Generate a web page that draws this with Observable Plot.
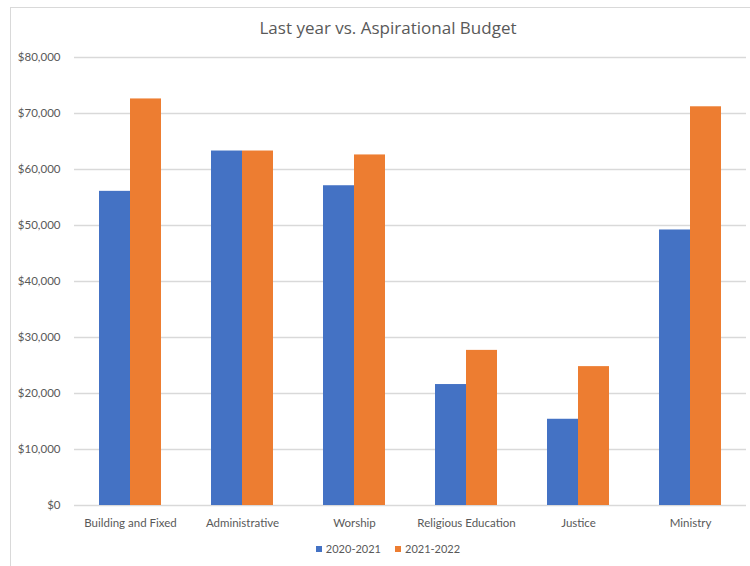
<!DOCTYPE html>
<html>
<head>
<meta charset="utf-8">
<script src="https://cdn.jsdelivr.net/npm/d3@7"></script>
<script src="https://cdn.jsdelivr.net/npm/@observablehq/plot@0.6"></script>
<style>
  html, body { margin: 0; padding: 0; background: #fff; width: 750px; height: 566px; overflow: hidden; }
  body { position: relative; font-family: Lato, "Open Sans", sans-serif; }
  #frame { position: absolute; left: 10px; top: 7px; width: 800px; height: 600px;
           border-left: 1px solid #d9d9d9; border-top: 1px solid #d9d9d9; }
  #wrap { position: absolute; left: 0; top: 0; width: 750px; }
  #title { height: 46px; box-sizing: border-box; padding-top: 17px; padding-left: 26px; text-align: center;
           font-family: "Open Sans", sans-serif; font-size: 17px; color: #595959; line-height: 22px; }
  #legend { display: flex; justify-content: center; gap: 14px; padding-left: 26px; margin-top: 7px;
            font-size: 11px; color: #595959; line-height: 14px; }
  #legend span.sw { display: inline-block; width: 6px; height: 6px; margin-right: 4px; vertical-align: 1px; }
</style>
</head>
<body>
<div id="frame"></div>
<div id="wrap">
  <div id="title">Last year vs. Aspirational Budget</div>
  <div id="chart"></div>
  <div id="legend"></div>
</div>
<script>
const categories = ["Building and Fixed", "Administrative", "Worship", "Religious Education", "Justice", "Ministry"];
const series = ["2020-2021", "2021-2022"];
const values2020 = [56100, 63300, 57100, 21600, 15400, 49200];
const values2021 = [72600, 63300, 62600, 27700, 24800, 71200];
const yTicks = [0, 10000, 20000, 30000, 40000, 50000, 60000, 70000, 80000];
const colors = ["#4472C4", "#ED7D31"];

const data = [];
categories.forEach((c, i) => {
  data.push({category: c, series: series[0], value: values2020[i]});
  data.push({category: c, series: series[1], value: values2021[i]});
});

const chart = Plot.plot({
  width: 750,
  height: 489,
  marginTop: 11,
  marginBottom: 30,
  marginLeft: 73,
  marginRight: 3,
  style: {fontFamily: "Lato, 'Open Sans', sans-serif", fontSize: "11.5px", color: "#595959", background: "transparent"},
  fx: {domain: categories, padding: 0, axis: "bottom", tickSize: 0, tickPadding: 13, label: null},
  x: {domain: series, paddingInner: 0, paddingOuter: 0.755, axis: null},
  y: {domain: [0, 80000], ticks: yTicks, tickSize: 0, tickPadding: 14, label: null,
      tickFormat: d => "$" + d3.format(",")(d)},
  color: {domain: series, range: colors},
  marks: [
    Plot.ruleY(yTicks, {stroke: "#d9d9d9", strokeWidth: 1.3}),
    Plot.barY(data, {fx: "category", x: "series", y: "value", fill: "series"})
  ]
});
document.getElementById("chart").appendChild(chart);

const legend = document.getElementById("legend");
series.forEach((s, i) => {
  const item = document.createElement("div");
  item.innerHTML = `<span class="sw" style="background:${colors[i]}"></span>${s}`;
  legend.appendChild(item);
});
</script>
</body>
</html>
